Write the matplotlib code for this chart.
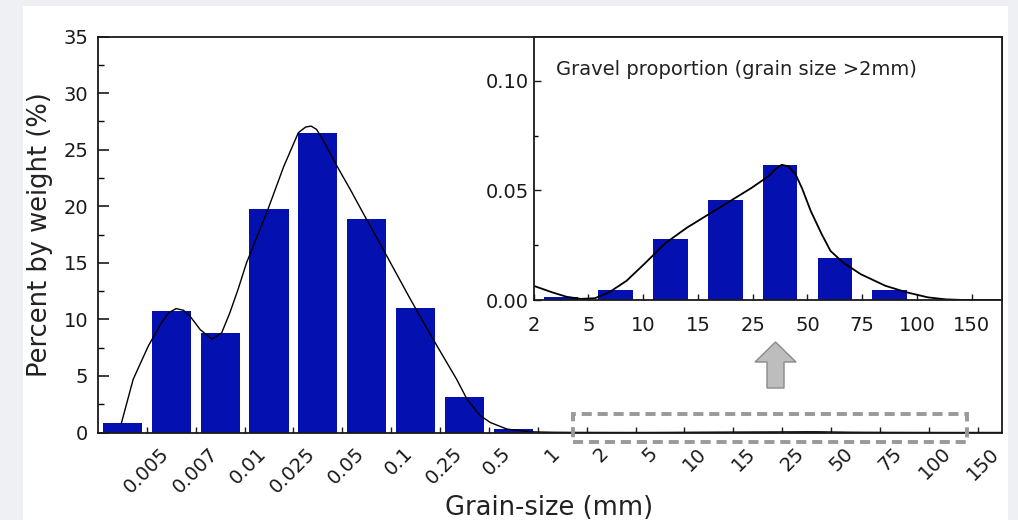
import numpy as np
import matplotlib
matplotlib.use("Agg")
import matplotlib.pyplot as plt
import matplotlib.patches as mpatches
from matplotlib.transforms import offset_copy

# class boundaries (mm) used as tick labels
size_labels = ["0.005", "0.007", "0.01", "0.025", "0.05", "0.1", "0.25", "0.5", "1",
               "2", "5", "10", "15", "25", "50", "75", "100", "150"]
gravel_labels = ["2", "5", "10", "15", "25", "50", "75", "100", "150"]

# percent by weight, classes <0.005 ... 1-2 mm
fine_percent = [0.8, 10.7, 8.8, 19.75, 26.5, 18.85, 11.0, 3.1, 0.27, 0.03]
# gravel classes 2-5 ... 100-150 mm
gravel_percent = [0.0015, 0.0047, 0.0277, 0.0456, 0.0615, 0.0191, 0.0045, 0.0]

# fitted curve (class index, percent)
fine_curve_x = [0.48, 0.72, 1.03, 1.30, 1.45, 1.60, 1.75, 1.88, 2.09, 2.33, 2.53, 2.70,
                2.87, 3.04, 3.45, 3.80, 4.10, 4.25, 4.36, 4.47, 4.60, 4.89, 5.16, 5.50,
                5.91, 6.39, 6.85, 7.34, 7.55, 7.82, 8.03, 8.37, 8.85, 9.30]
fine_curve_y = [0.85, 4.7, 7.65, 9.7, 10.6, 10.95, 10.8, 10.3, 9.1, 8.25, 8.8, 10.6,
                12.7, 15.0, 19.4, 23.5, 26.5, 27.0, 27.08, 26.8, 25.9, 23.55, 21.5, 18.8,
                15.6, 11.8, 8.3, 4.7, 2.95, 1.5, 0.88, 0.3, 0.06, 0.02]
gravel_curve_x = [-0.3, 0.0, 0.34, 0.6, 0.86, 1.12, 1.38, 1.70, 2.02, 2.41, 2.80, 3.19,
                  3.58, 3.97, 4.29, 4.42, 4.53, 4.65, 4.78, 4.90, 5.06, 5.26, 5.42, 5.65,
                  5.97, 6.42, 6.81, 7.2, 7.52, 7.85, 8.5]
gravel_curve_y = [0.0095, 0.0065, 0.0035, 0.0015, 0.0005, 0.0008, 0.0035, 0.0088, 0.0164,
                  0.026, 0.033, 0.039, 0.045, 0.051, 0.0565, 0.0598, 0.0617, 0.0610,
                  0.0575, 0.051, 0.0406, 0.030, 0.0224, 0.0171, 0.0118, 0.0065, 0.0035,
                  0.0012, 0.0003, 0.0, 0.0]

bar_color = "#0510b0"
spine_color = "#1a1a1a"

plt.rcParams["font.family"] = ["DejaVu Sans"]

fig = plt.figure(figsize=(10.18, 5.2), dpi=100, facecolor="#eef0f3")
fig.patches.append(mpatches.Rectangle((23 / 1018, 0), 985 / 1018, 514 / 520,
                                      transform=fig.transFigure, facecolor="white",
                                      edgecolor="none", zorder=-10))

# main chart
ax = fig.add_axes([98 / 1018, 87.5 / 520, 904 / 1018, 396 / 520])
all_percent = fine_percent + gravel_percent
ax.bar(np.arange(len(all_percent)) + 0.5, all_percent, width=0.8, color=bar_color)
curve_x = fine_curve_x + [g + 10 for g in gravel_curve_x]
curve_y = fine_curve_y + gravel_curve_y
ax.plot(curve_x, curve_y, color="black", lw=1.0)

ax.set_xlim(0, 18.5)
ax.set_ylim(0, 35)
tick_pos = np.arange(1, len(size_labels) + 1)
ax.set_xticks(tick_pos)
ax.set_xticklabels([])
# rotated labels sit a bit right of their ticks, as in the original
lab_trans = offset_copy(ax.get_xaxis_transform(), fig=fig, x=19, y=-18, units="dots")
for p, lab in zip(tick_pos, size_labels):
    ax.text(p, 0, lab, transform=lab_trans, rotation=45, ha="right", va="center",
            rotation_mode="anchor", fontsize=14, color=spine_color)

ax.set_yticks(np.arange(0, 36, 5))
ax.set_yticks(np.arange(2.5, 35, 5), minor=True)
ax.tick_params(axis="y", which="major", direction="in", length=8, width=1.2,
               labelsize=14, pad=7, colors=spine_color)
ax.tick_params(axis="y", which="minor", direction="in", length=4, width=1.0)
ax.tick_params(axis="x", which="major", direction="in", length=4, width=1.0,
               colors=spine_color)
for s in ax.spines.values():
    s.set_linewidth(1.3)
    s.set_color(spine_color)

ax.set_xlabel("Grain-size (mm)", fontsize=18.5, color="#222222")
ax.set_ylabel("Percent by weight (%)", fontsize=18.5, color="#222222")
ax.xaxis.set_label_coords(0.499, -0.157)
ax.yaxis.set_label_coords(-0.05, 0.5)

# dashed box around the gravel part
ax.add_patch(mpatches.Rectangle((9.73, -0.84), 8.05, 2.47, fill=False,
                                edgecolor="#999999", lw=2.8, linestyle=(0, (2.6, 1.5)),
                                clip_on=False, zorder=5))

# arrow pointing to the inset
fig.patches.append(mpatches.FancyArrow(7.755, 1.32, 0, 0.46, width=0.17, head_width=0.41,
                                       head_length=0.20, length_includes_head=True,
                                       transform=fig.dpi_scale_trans,
                                       facecolor="#bdbdbd", edgecolor="#8a8a8a", lw=1.0))

# inset: gravel proportion
ax2 = fig.add_axes([533.5 / 1018, 220 / 520, 468.5 / 1018, 263 / 520])
ax2.bar(np.arange(len(gravel_percent)) + 0.5, gravel_percent, width=0.63, color=bar_color)
ax2.plot(gravel_curve_x, gravel_curve_y, color="black", lw=1.3)
ax2.set_xlim(0, 8.55)
ax2.set_ylim(0, 0.12)
ax2.set_xticks(np.arange(len(gravel_labels)))
ax2.set_xticklabels(gravel_labels, fontsize=14)
ax2.set_yticks([0, 0.05, 0.10])
ax2.set_yticklabels(["0.00", "0.05", "0.10"], fontsize=14)
ax2.set_yticks([0.025, 0.075], minor=True)
ax2.tick_params(axis="x", direction="in", length=4, width=1.0, pad=11.5, colors=spine_color)
ax2.tick_params(axis="y", which="major", direction="in", length=5, width=1.0, pad=3.5,
                colors=spine_color)
ax2.tick_params(axis="y", which="minor", direction="in", length=3, width=1.0)
for s in ax2.spines.values():
    s.set_linewidth(1.3)
    s.set_color(spine_color)
ax2.text(0.049, 0.875, "Gravel proportion (grain size >2mm)", transform=ax2.transAxes,
         fontsize=14, va="center", ha="left", color="#222222")

fig.savefig("out.png", dpi=100, facecolor=fig.get_facecolor())
